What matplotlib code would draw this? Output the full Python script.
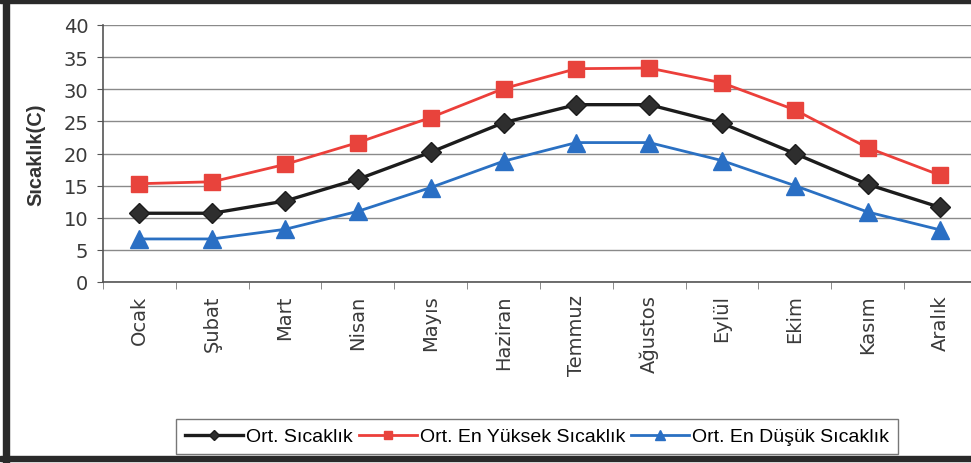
import matplotlib
matplotlib.use("Agg")
import matplotlib.pyplot as plt
from matplotlib.patches import Rectangle
from matplotlib.ticker import FixedLocator

months = ["Ocak", "Şubat", "Mart", "Nisan", "Mayıs", "Haziran", "Temmuz",
          "Ağustos", "Eylül", "Ekim", "Kasım", "Aralık"]
ort_sicaklik = [10.7, 10.7, 12.6, 16.0, 20.2, 24.8, 27.6, 27.6, 24.7, 20.0, 15.2, 11.6]
ort_en_yuksek = [15.3, 15.6, 18.3, 21.7, 25.6, 30.1, 33.2, 33.3, 31.0, 26.8, 20.9, 16.6]
ort_en_dusuk = [6.7, 6.7, 8.2, 11.0, 14.7, 18.8, 21.7, 21.7, 18.9, 15.0, 10.9, 8.1]
y_ticks = [0, 5, 10, 15, 20, 25, 30, 35, 40]
series_labels = ["Ort. Sıcaklık", "Ort. En Yüksek Sıcaklık", "Ort. En Düşük Sıcaklık"]

plt.rcParams['font.family'] = ['Liberation Sans', 'DejaVu Sans']

W, H = 971, 464
fig = plt.figure(figsize=(W / 100, H / 100), dpi=100)
fig.patch.set_facecolor("white")

ax = fig.add_axes([103 / W, 1 - 283 / H, (W - 103) / W, (283 - 26) / H])
x = list(range(len(months)))

ax.plot(x, ort_sicaklik, color="#1c1c1c", lw=2.4, marker="D", ms=10,
        mfc="#2e2e2e", mec="#1c1c1c", label=series_labels[0], zorder=4)
ax.plot(x, ort_en_yuksek, color="#ec3f3a", lw=2.0, marker="s", ms=11,
        mfc="#e8433c", mec="#e8433c", label=series_labels[1], zorder=3)
ax.plot(x, ort_en_dusuk, color="#2a70c2", lw=2.0, marker="^", ms=13,
        mfc="#2a6fc4", mec="#2a6fc4", label=series_labels[2], zorder=3)

tick_font = ['DejaVu Sans']
ax.set_xlim(-0.5, 11.42)
ax.set_ylim(0, 40)
ax.set_yticks(y_ticks)
ax.set_yticklabels([str(v) for v in y_ticks], fontsize=14, color="#3a3a3a",
                   family=tick_font)
ax.set_xticks(x)
ax.set_xticklabels(months, rotation=90, fontsize=14, color="#3a3a3a",
                   family=tick_font)
ax.xaxis.set_minor_locator(FixedLocator([i + 0.5 for i in range(-1, 12)]))
ax.tick_params(axis="x", which="major", length=0, pad=9)
ax.tick_params(axis="x", which="minor", length=5, color="#777777")
ax.tick_params(axis="y", length=4.5, color="#555555", pad=6)

ax.grid(axis="y", color="#8a8a8a", lw=1.0)
ax.set_axisbelow(True)
for s in ["top", "right"]:
    ax.spines[s].set_visible(False)
ax.spines["left"].set_color("#555555")
ax.spines["bottom"].set_color("#555555")
ax.spines["left"].set_linewidth(1.2)
ax.spines["bottom"].set_linewidth(1.2)

ax.set_ylabel("Sıcaklık(C)", fontsize=14.5, fontweight="bold", color="#333333",
              labelpad=13)

leg = fig.legend(loc="center", bbox_to_anchor=(537 / W, 1 - 437.5 / H), ncol=3,
                 fontsize=14, frameon=True, fancybox=False, handlelength=3.0,
                 handletextpad=0.15, columnspacing=0.3, borderpad=0.45,
                 borderaxespad=0, markerscale=0.55)
leg.get_frame().set_edgecolor("#555555")
leg.get_frame().set_linewidth(1.0)

# scanned frame border
fig.patches.append(Rectangle((0, 1 - 4 / H), 1, 4 / H, transform=fig.transFigure,
                             color="#2a2a2a", zorder=10))
fig.patches.append(Rectangle((3 / W, 0), 6 / W, 1, transform=fig.transFigure,
                             color="#2a2a2a", zorder=10))
fig.patches.append(Rectangle((0, 2 / H), 1, 5 / H, transform=fig.transFigure,
                             color="#2a2a2a", zorder=10))

fig.savefig("out.png", dpi=100)
